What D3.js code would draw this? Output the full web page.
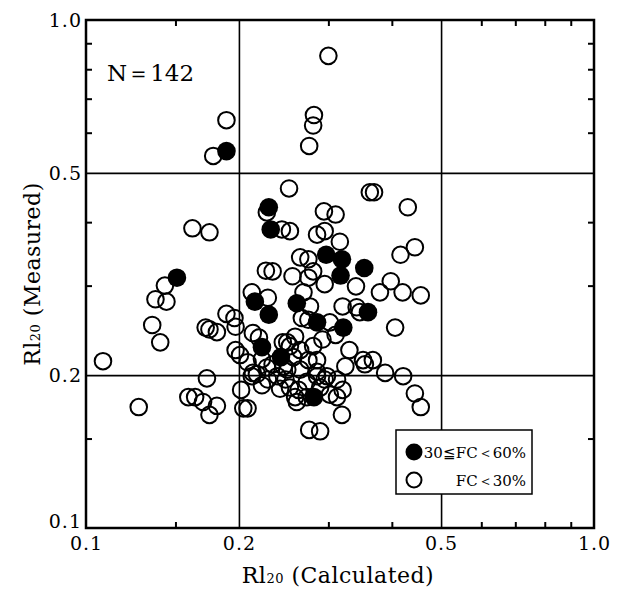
<!DOCTYPE html>
<html>
<head>
<meta charset="utf-8">
<script src="https://cdn.jsdelivr.net/npm/d3@7"></script>
<style>
body { margin: 0; background: #fff; }
svg { display: block; }
.lab { font-family: "DejaVu Serif", serif; fill: #000; }
</style>
</head>
<body>
<div id="chart"></div>
<script>
// tick values
var tickLabels = [0.1, 0.2, 0.5, 1.0];
var gridValues = [0.2, 0.5];
var minorTicks = [0.15, 0.3, 0.4, 0.6, 0.7, 0.8, 0.9];

// [calculated, measured], 30 <= FC < 60 %
var midFC = [
    [0.189, 0.552], [0.229, 0.428], [0.231, 0.387], [0.151, 0.311], [0.215, 0.279],
    [0.229, 0.263], [0.260, 0.277], [0.297, 0.345], [0.319, 0.338], [0.317, 0.314],
    [0.353, 0.325], [0.285, 0.254], [0.321, 0.248], [0.359, 0.266], [0.222, 0.227],
    [0.242, 0.217], [0.281, 0.181]
];

// [calculated, measured], FC < 30 %
var lowFC = [
    [0.300, 0.850], [0.189, 0.635], [0.178, 0.540], [0.281, 0.650], [0.280, 0.620], [0.275, 0.565],
    [0.162, 0.389], [0.175, 0.382], [0.143, 0.300], [0.137, 0.282], [0.144, 0.279], [0.135, 0.251],
    [0.140, 0.232], [0.108, 0.213], [0.189, 0.264], [0.196, 0.259], [0.197, 0.249], [0.172, 0.248],
    [0.175, 0.246], [0.181, 0.243],
    [0.173, 0.197], [0.159, 0.181], [0.164, 0.181], [0.170, 0.177], [0.181, 0.174], [0.175, 0.167],
    [0.127, 0.173],
    [0.251, 0.466], [0.362, 0.458], [0.369, 0.458], [0.430, 0.428], [0.243, 0.387], [0.252, 0.384],
    [0.227, 0.418], [0.294, 0.420], [0.310, 0.414], [0.285, 0.378], [0.295, 0.384], [0.316, 0.366],
    [0.340, 0.299], [0.264, 0.341], [0.274, 0.338], [0.226, 0.321], [0.233, 0.320], [0.255, 0.313],
    [0.274, 0.311], [0.280, 0.320], [0.295, 0.302], [0.416, 0.345], [0.444, 0.357], [0.379, 0.291],
    [0.398, 0.306], [0.420, 0.291], [0.456, 0.287], [0.406, 0.248], [0.228, 0.284], [0.212, 0.291],
    [0.268, 0.291], [0.276, 0.273], [0.274, 0.257], [0.292, 0.235], [0.302, 0.254], [0.320, 0.273],
    [0.341, 0.272], [0.346, 0.266], [0.219, 0.237], [0.258, 0.238], [0.252, 0.228], [0.264, 0.224],
    [0.244, 0.232], [0.274, 0.214], [0.285, 0.203], [0.324, 0.208], [0.351, 0.214], [0.367, 0.214],
    [0.354, 0.210], [0.201, 0.219], [0.213, 0.202], [0.227, 0.207], [0.249, 0.205], [0.256, 0.217],
    [0.280, 0.228],
    [0.212, 0.199], [0.222, 0.191], [0.202, 0.187], [0.204, 0.172], [0.208, 0.172], [0.238, 0.199],
    [0.241, 0.188], [0.252, 0.189], [0.258, 0.181], [0.262, 0.187], [0.272, 0.194], [0.285, 0.199],
    [0.272, 0.181], [0.302, 0.183], [0.312, 0.181], [0.312, 0.196], [0.320, 0.187], [0.319, 0.167],
    [0.388, 0.202], [0.421, 0.199], [0.444, 0.184], [0.456, 0.173], [0.275, 0.156], [0.289, 0.155],
    [0.213, 0.242], [0.249, 0.232], [0.233, 0.210], [0.247, 0.196], [0.264, 0.205], [0.289, 0.189],
    [0.298, 0.199], [0.260, 0.177], [0.228, 0.196], [0.217, 0.201], [0.295, 0.196], [0.245, 0.208],
    [0.285, 0.214], [0.266, 0.259], [0.310, 0.240], [0.330, 0.224], [0.208, 0.212], [0.222, 0.215],
    [0.197, 0.224]
];

var width = 621, height = 589;
var margin = { top: 20, left: 86, right: 27, bottom: 61 };
var fmt = d3.format(".1f");

var svg = d3.select("#chart").append("svg")
    .attr("width", width)
    .attr("height", height);

var xScale = d3.scaleLog().domain([0.1, 1]).range([margin.left, width - margin.right]);
var yScale = d3.scaleLog().domain([0.1, 1]).range([height - margin.bottom, margin.top]);
var plotW = width - margin.left - margin.right;
var plotH = height - margin.top - margin.bottom;

function clean(g) {
    g.select(".domain").remove();
    g.selectAll("line").attr("stroke", "#000");
}

// grid lines at 0.2 and 0.5
svg.append("g")
    .attr("transform", `translate(0,${height - margin.bottom})`)
    .call(d3.axisBottom(xScale).tickValues(gridValues).tickSize(-plotH).tickFormat(""))
    .call(clean)
    .selectAll("line").attr("stroke-width", 1.6);

svg.append("g")
    .attr("transform", `translate(${margin.left},0)`)
    .call(d3.axisLeft(yScale).tickValues(gridValues).tickSize(-plotW).tickFormat(""))
    .call(clean)
    .selectAll("line").attr("stroke-width", 1.6);

// inward minor ticks on all four sides
var tk = 6;
[
    [d3.axisBottom(xScale).tickSize(-tk), `translate(0,${height - margin.bottom})`],
    [d3.axisTop(xScale).tickSize(-tk), `translate(0,${margin.top})`],
    [d3.axisLeft(yScale).tickSize(-tk), `translate(${margin.left},0)`],
    [d3.axisRight(yScale).tickSize(-tk), `translate(${width - margin.right},0)`]
].forEach(function(a) {
    svg.append("g")
        .attr("transform", a[1])
        .call(a[0].tickValues(minorTicks).tickFormat(""))
        .call(clean)
        .selectAll("line").attr("stroke-width", 2);
});

// frame
svg.append("rect")
    .attr("x", margin.left)
    .attr("y", margin.top)
    .attr("width", plotW)
    .attr("height", plotH)
    .attr("fill", "none")
    .attr("stroke", "#000")
    .attr("stroke-width", 2.5);

// tick labels
var xAxis = svg.append("g")
    .attr("transform", `translate(0,${height - margin.bottom})`)
    .call(d3.axisBottom(xScale).tickValues(tickLabels).tickSize(0).tickPadding(9).tickFormat(fmt));
xAxis.select(".domain").remove();
xAxis.selectAll("text")
    .attr("class", "lab")
    .style("font-size", "19px")
    .style("letter-spacing", "1px");

var yAxis = svg.append("g")
    .attr("transform", `translate(${margin.left},0)`)
    .call(d3.axisLeft(yScale).tickValues(tickLabels).tickSize(0).tickPadding(4).tickFormat(fmt));
yAxis.select(".domain").remove();
yAxis.selectAll("text")
    .attr("class", "lab")
    .style("font-size", "19px")
    .style("letter-spacing", "1px")
    .attr("dy", function(d) { return d === 0.1 ? "-0.05em" : "0.32em"; });

// axis titles
var xTitle = svg.append("text")
    .attr("class", "lab")
    .attr("x", 338)
    .attr("y", 583)
    .attr("text-anchor", "middle")
    .style("font-size", "22px")
    .style("letter-spacing", "0.5px");
xTitle.append("tspan").text("Rl");
xTitle.append("tspan").style("font-size", "13px").text("20");
xTitle.append("tspan").text(" (Calculated)");

var yTitle = svg.append("text")
    .attr("class", "lab")
    .attr("transform", "translate(40,274) rotate(-90)")
    .attr("text-anchor", "middle")
    .style("font-size", "22px")
    .style("letter-spacing", "0.5px");
yTitle.append("tspan").text("Rl");
yTitle.append("tspan").style("font-size", "13px").text("20");
yTitle.append("tspan").text(" (Measured)");

// N label
svg.append("text")
    .attr("class", "lab")
    .attr("x", 107)
    .attr("y", 81)
    .style("font-size", "23px")
    .text("N＝142");

// points
svg.append("g").selectAll("circle")
    .data(lowFC)
    .enter()
    .append("circle")
    .attr("cx", function(d) { return xScale(d[0]); })
    .attr("cy", function(d) { return yScale(d[1]); })
    .attr("r", 8.3)
    .attr("fill", "none")
    .attr("stroke", "#000")
    .attr("stroke-width", 2);

svg.append("g").selectAll("circle")
    .data(midFC)
    .enter()
    .append("circle")
    .attr("cx", function(d) { return xScale(d[0]); })
    .attr("cy", function(d) { return yScale(d[1]); })
    .attr("r", 9.3)
    .attr("fill", "#000");

// legend
var lg = svg.append("g").attr("transform", "translate(396,430)");
lg.append("rect")
    .attr("width", 136)
    .attr("height", 64)
    .attr("fill", "#fff")
    .attr("stroke", "#000")
    .attr("stroke-width", 1.5);
lg.append("circle").attr("cx", 18).attr("cy", 22).attr("r", 8.5).attr("fill", "#000");
lg.append("circle").attr("cx", 18).attr("cy", 50).attr("r", 7.5)
    .attr("fill", "none").attr("stroke", "#000").attr("stroke-width", 2);
lg.append("text").attr("class", "lab")
    .attr("x", 130).attr("y", 28)
    .attr("text-anchor", "end")
    .style("font-size", "15px")
    .text("30≦FC＜60%");
lg.append("text").attr("class", "lab")
    .attr("x", 130).attr("y", 56)
    .attr("text-anchor", "end")
    .style("font-size", "15px")
    .text("FC＜30%");
</script>
</body>
</html>
